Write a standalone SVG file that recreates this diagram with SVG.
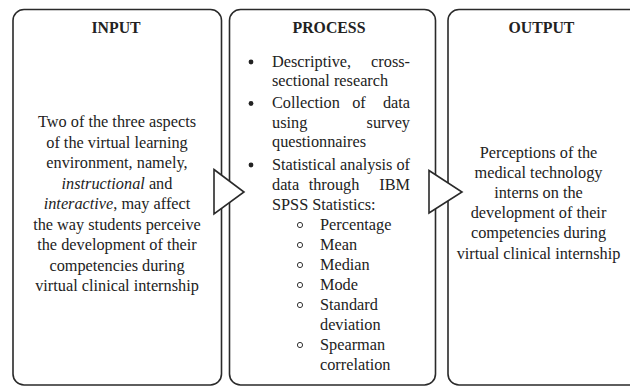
<svg xmlns="http://www.w3.org/2000/svg" width="630" height="388" viewBox="0 0 630 388">
<style>
.box{fill:#fff;stroke:#2a2a2a;stroke-width:1.6}
.arr{fill:#fff;stroke:#2a2a2a;stroke-width:1.6;stroke-linejoin:miter}
text{font-family:"Liberation Serif","Times New Roman",serif;font-size:16.3px;fill:#222}
.t{font-weight:bold;text-anchor:middle;font-size:15.8px}
.c{text-anchor:middle}
.e{text-anchor:end}
.dot{fill:#222}
.sub{fill:none;stroke:#333;stroke-width:1}
</style>
<rect width="630" height="388" fill="#fff"/>
<g id="input">
<rect class="box" x="13" y="9.5" width="208.5" height="375.5" rx="11"/>
<text class="t" x="116" y="33">INPUT</text>
<text class="c" x="117" y="127">Two of the three aspects</text>
<text class="c" x="117" y="147.5">of the virtual learning</text>
<text class="c" x="117" y="168">environment, namely,</text>
<text class="c" x="117" y="188.5"><tspan font-style="italic">instructional</tspan> and</text>
<text class="c" x="117" y="209"><tspan font-style="italic">interactive</tspan>, may affect</text>
<text class="c" x="117" y="229.5">the way students perceive</text>
<text class="c" x="117" y="250">the development of their</text>
<text class="c" x="117" y="270.5">competencies during</text>
<text class="c" x="117" y="291">virtual clinical internship</text>
</g>
<g id="process">
<rect class="box" x="229.5" y="9.5" width="206" height="375.5" rx="11"/>
<text class="t" x="329" y="33">PROCESS</text>
<circle class="dot" cx="251" cy="62" r="2.4"/>
<text x="272" y="66.5">Descriptive,</text>
<text class="e" x="410" y="66.5">cross-</text>
<text x="272" y="86">sectional research</text>
<circle class="dot" cx="251" cy="103.5" r="2.4"/>
<text x="272" y="108">Collection</text>
<text class="c" x="359" y="108">of</text>
<text class="e" x="410" y="108">data</text>
<text x="272" y="127.5">using</text>
<text class="e" x="410" y="127.5">survey</text>
<text x="272" y="147">questionnaires</text>
<circle class="dot" cx="251" cy="165" r="2.4"/>
<text x="272" y="169.5" textLength="138" lengthAdjust="spacing">Statistical analysis of</text>
<text x="272" y="189.5">data</text>
<text class="c" x="334" y="189.5">through</text>
<text class="e" x="410" y="189.5">IBM</text>
<text x="272" y="209.5">SPSS Statistics:</text>
<circle class="sub" cx="300" cy="225" r="2.6"/>
<text x="320" y="230">Percentage</text>
<circle class="sub" cx="300" cy="245" r="2.6"/>
<text x="320" y="250">Mean</text>
<circle class="sub" cx="300" cy="265" r="2.6"/>
<text x="320" y="270">Median</text>
<circle class="sub" cx="300" cy="285" r="2.6"/>
<text x="320" y="290">Mode</text>
<circle class="sub" cx="300" cy="305" r="2.6"/>
<text x="320" y="310">Standard</text>
<text x="320" y="330">deviation</text>
<circle class="sub" cx="300" cy="345" r="2.6"/>
<text x="320" y="350">Spearman</text>
<text x="320" y="370">correlation</text>
</g>
<g id="output">
<rect class="box" x="448" y="9.5" width="200" height="375.5" rx="11"/>
<text class="t" x="541.5" y="33">OUTPUT</text>
<text class="c" x="538.5" y="158">Perceptions of the</text>
<text class="c" x="538.5" y="178">medical technology</text>
<text class="c" x="538.5" y="198">interns on the</text>
<text class="c" x="538.5" y="218">development of their</text>
<text class="c" x="538.5" y="238">competencies during</text>
<text class="c" x="538.5" y="258.5">virtual clinical internship</text>
</g>
<g id="connectors">
<polygon class="arr" points="214,169.5 244,192 214,214"/>
<polygon class="arr" points="429,170.5 462,192 429,213"/>
</g>
</svg>
